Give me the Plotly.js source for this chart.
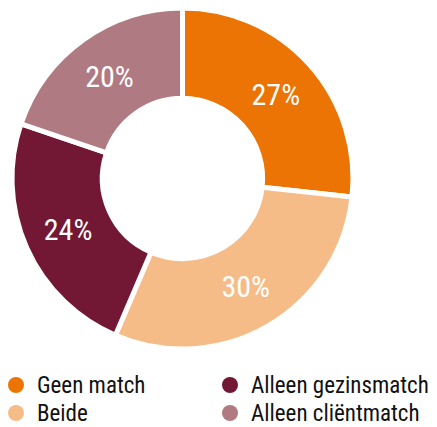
<!DOCTYPE html>
<html><head><meta charset="utf-8">
<script src="https://cdn.plot.ly/plotly-3.0.1.min.js"></script>
<style>html,body{margin:0;padding:0;background:#fff}#chart{width:437px;height:427px}</style>
</head><body><div id="chart"></div>
<script>
var categories = ["Geen match", "Beide", "Alleen gezinsmatch", "Alleen cliëntmatch"];
var values = [27, 30, 24, 20];
var colors = ["#EC7404", "#F6BC87", "#721834", "#B07A82"];
var legendOrder = ["Geen match", "Alleen gezinsmatch", "Beide", "Alleen cliëntmatch"];

var FONT = "'Roboto Condensed', 'Liberation Sans Narrow', sans-serif";
var W = 437, H = 427;

var traces = [{
  type: "pie",
  labels: categories,
  values: values,
  sort: false,
  direction: "clockwise",
  rotation: 0,
  hole: 0.47,
  marker: {colors: colors, line: {color: "#ffffff", width: 5}},
  texttemplate: "%{value}%",
  textposition: "inside",
  insidetextorientation: "horizontal",
  textfont: {family: FONT, size: 30, color: "#ffffff"},
  showlegend: false,
  hoverinfo: "label+value",
  domain: {x: [12/W, 353/W], y: [1 - 349/H, 1 - 8/H]}
}];

// manual legend in two columns (circle markers + text)
var colX = [16, 230], rowY = [385, 413];
var shapes = [], annotations = [];
legendOrder.forEach(function(name, k){
  var i = categories.indexOf(name);
  var cx = colX[k % 2], cy = rowY[Math.floor(k / 2)];
  shapes.push({
    type: "circle", xref: "paper", yref: "paper",
    xsizemode: "pixel", ysizemode: "pixel",
    xanchor: cx / W, yanchor: 1 - cy / H,
    x0: -8, x1: 8, y0: -8, y1: 8,
    fillcolor: colors[i], line: {width: 0}
  });
  annotations.push({
    xref: "paper", yref: "paper", x: (cx + 20) / W, y: 1 - cy / H,
    xanchor: "left", yanchor: "middle", showarrow: false,
    borderpad: 0,
    text: name, font: {family: FONT, size: 23, color: "#111111"}
  });
});

var layout = {
  width: W, height: H,
  margin: {l: 0, r: 0, t: 0, b: 0},
  paper_bgcolor: "#ffffff", plot_bgcolor: "#ffffff",
  showlegend: false,
  shapes: shapes,
  annotations: annotations
};

Plotly.newPlot("chart", traces, layout, {displayModeBar: false, staticPlot: true});
</script></body></html>
